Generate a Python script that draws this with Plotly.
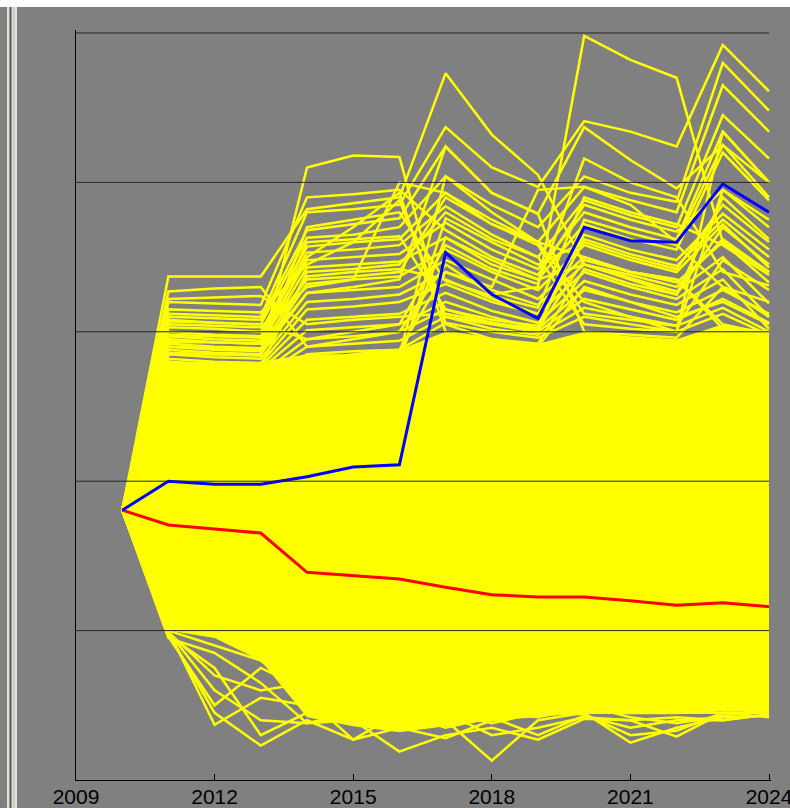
import plotly.graph_objects as go

# ---------------- data ----------------
years = [2010, 2011, 2012, 2013, 2014, 2015, 2016, 2017, 2018, 2019, 2020, 2021, 2022, 2023, 2024]
start_value = 1.806

blue_series = [1.806, 2.00, 1.98, 1.98, 2.03, 2.095, 2.11, 3.53, 3.25, 3.09, 3.70, 3.61, 3.60, 3.99, 3.80]
red_series = [1.806, 1.707, 1.68, 1.653, 1.39, 1.37, 1.345, 1.29, 1.24, 1.225, 1.225, 1.20, 1.17, 1.187, 1.16]

# dense body of the simulated paths (lower / upper envelope of the solid yellow mass)
core_low = [1.806, 1.00, 0.95, 0.80, 0.42, 0.36, 0.32, 0.36, 0.40, 0.42, 0.45, 0.44, 0.44, 0.46, 0.46]
core_high = [1.806, 2.80, 2.80, 2.80, 2.85, 2.85, 2.88, 3.00, 2.96, 2.92, 3.00, 2.97, 2.95, 3.05, 3.00]

# individual paths above the dense body (values 2011..2024)
upper_paths = [
    [3.37, 3.37, 3.37, 3.82, 3.86, 3.90, 4.73, 4.32, 4.05, 3.45, 3.35, 3.25, 3.70, 3.45],
    [3.27, 3.29, 3.30, 2.90, 2.95, 3.00, 3.45, 3.25, 3.30, 4.98, 4.82, 4.70, 3.60, 3.40],
    [2.85, 2.85, 2.85, 4.10, 4.18, 4.17, 3.05, 2.95, 2.90, 3.30, 3.20, 3.10, 3.20, 3.05],
    [3.12, 3.11, 3.10, 3.80, 3.82, 3.85, 4.37, 4.10, 3.97, 4.41, 4.34, 4.24, 4.92, 4.61],
    [3.10, 3.09, 3.08, 3.68, 3.72, 3.76, 4.24, 3.93, 3.79, 4.37, 4.15, 3.96, 4.25, 4.00],
    [3.08, 3.06, 3.05, 3.63, 3.65, 3.70, 4.04, 3.85, 3.70, 4.04, 3.93, 3.87, 4.80, 4.48],
    [3.03, 3.02, 3.00, 3.57, 3.60, 3.62, 3.93, 3.72, 3.60, 3.97, 3.88, 3.80, 4.65, 4.34],
    [3.00, 2.98, 2.97, 3.53, 3.55, 3.58, 3.84, 3.65, 3.50, 3.88, 3.78, 3.70, 4.45, 4.16],
    [2.97, 2.95, 2.94, 3.48, 3.50, 3.52, 3.73, 3.55, 3.42, 3.80, 3.70, 3.62, 4.34, 4.00],
    [2.95, 2.93, 2.92, 3.43, 3.45, 3.47, 3.63, 3.48, 3.35, 3.72, 3.62, 3.55, 4.20, 3.88],
    [2.92, 2.90, 2.89, 3.37, 3.40, 3.42, 3.35, 3.22, 3.12, 3.65, 3.55, 3.48, 3.79, 3.55],
    [2.90, 2.88, 2.87, 3.32, 3.35, 3.37, 3.55, 3.40, 3.28, 3.58, 3.48, 3.40, 3.72, 3.43],
    [2.88, 2.86, 2.85, 3.26, 3.28, 3.30, 3.48, 3.35, 3.22, 3.50, 3.40, 3.33, 3.60, 3.33],
    [2.85, 2.83, 2.82, 3.20, 3.22, 3.25, 3.40, 3.28, 3.18, 3.45, 3.36, 3.27, 3.50, 3.19],
    [2.82, 2.80, 2.79, 3.15, 3.17, 3.20, 3.32, 3.20, 3.12, 3.40, 3.30, 3.22, 3.42, 3.10],
    [2.80, 2.78, 2.77, 3.08, 3.10, 3.12, 3.26, 3.14, 3.06, 3.34, 3.25, 3.18, 3.35, 3.02],
    [2.78, 2.76, 2.75, 3.01, 3.03, 3.05, 3.20, 3.10, 3.02, 3.28, 3.20, 3.13, 3.28, 3.12],
    [2.75, 2.73, 2.72, 2.95, 2.97, 3.00, 3.15, 3.06, 3.00, 3.22, 3.15, 3.08, 3.22, 3.06],
    [2.72, 2.70, 2.70, 2.90, 2.92, 2.94, 3.10, 3.02, 2.98, 3.16, 3.10, 3.04, 3.16, 3.00],
    [2.70, 2.68, 2.67, 2.85, 2.87, 2.88, 3.06, 3.00, 2.96, 3.10, 3.05, 3.00, 3.12, 2.98],
    [2.68, 2.68, 2.68, 2.80, 2.82, 2.84, 4.04, 3.80, 3.60, 3.20, 3.10, 3.00, 4.34, 4.00],
    [3.05, 3.04, 3.03, 3.30, 3.35, 4.00, 3.93, 3.75, 3.60, 3.50, 3.40, 3.35, 3.05, 2.98],
    [2.95, 2.93, 2.92, 3.50, 3.70, 3.93, 3.00, 2.95, 2.92, 3.42, 3.32, 3.25, 3.90, 3.62],
    [2.90, 2.89, 2.88, 3.26, 3.30, 3.35, 4.24, 3.93, 3.79, 3.00, 2.98, 2.96, 3.30, 3.10],
    [2.73, 2.72, 2.71, 2.80, 2.85, 2.88, 3.40, 3.30, 3.95, 3.97, 3.85, 3.60, 4.25, 3.90],
    [2.71, 2.70, 2.70, 2.78, 2.79, 2.80, 3.76, 3.60, 3.45, 3.60, 3.50, 3.42, 3.85, 3.60],
    [2.72, 2.72, 2.72, 2.79, 2.80, 2.82, 3.63, 3.45, 3.35, 3.45, 3.38, 3.30, 3.62, 3.40],
    [3.20, 3.19, 3.18, 3.90, 3.92, 3.95, 3.68, 3.50, 3.38, 3.85, 3.75, 3.67, 3.95, 3.70],
    [3.15, 3.14, 3.13, 3.45, 3.60, 3.88, 3.10, 3.05, 3.00, 3.75, 3.66, 3.58, 3.30, 3.20],
    [3.07, 3.06, 3.05, 2.95, 3.00, 3.05, 3.58, 3.42, 3.32, 4.16, 4.00, 3.90, 3.40, 3.31],
    [2.93, 2.93, 2.92, 3.60, 3.62, 3.64, 3.15, 3.08, 3.04, 3.62, 3.52, 3.44, 3.75, 3.50],
    [2.86, 2.85, 2.84, 3.70, 3.75, 3.80, 3.34, 3.24, 3.16, 3.90, 3.80, 3.72, 3.58, 3.38],
    [2.78, 2.77, 2.77, 3.40, 3.42, 3.45, 3.80, 3.62, 3.50, 3.05, 3.02, 3.00, 3.95, 3.75],
    [3.22, 3.23, 3.24, 3.05, 3.08, 3.10, 3.12, 3.06, 3.02, 3.48, 3.40, 3.35, 3.02, 3.00],
    [2.98, 2.97, 2.96, 3.35, 3.37, 3.40, 3.90, 3.72, 3.58, 3.12, 3.08, 3.04, 3.48, 3.28],
]

# individual paths below the dense body (values 2011..2024)
lower_paths = [
    [1.00, 0.37, 0.55, 0.50, 0.45, 0.40, 0.38, 0.45, 0.50, 0.48, 0.50, 0.50, 0.48, 0.46],
    [0.98, 0.45, 0.23, 0.40, 0.27, 0.35, 0.28, 0.40, 0.45, 0.45, 0.45, 0.45, 0.45, 0.45],
    [0.99, 0.60, 0.40, 0.38, 0.40, 0.19, 0.30, 0.35, 0.27, 0.41, 0.40, 0.42, 0.40, 0.44],
    [0.97, 0.75, 0.30, 0.45, 0.50, 0.45, 0.40, 0.13, 0.40, 0.45, 0.25, 0.35, 0.42, 0.43],
    [0.95, 0.85, 0.65, 0.38, 0.45, 0.42, 0.45, 0.30, 0.35, 0.42, 0.40, 0.29, 0.45, 0.42],
    [1.00, 0.90, 0.80, 0.55, 0.27, 0.45, 0.35, 0.42, 0.30, 0.43, 0.35, 0.40, 0.40, 0.44],
    [0.96, 0.50, 0.75, 0.60, 0.55, 0.50, 0.45, 0.38, 0.45, 0.44, 0.30, 0.33, 0.45, 0.45],
    [0.99, 0.70, 0.60, 0.65, 0.60, 0.55, 0.50, 0.45, 0.42, 0.50, 0.42, 0.38, 0.43, 0.47],
]

x_tick_values = [2009, 2012, 2015, 2018, 2021, 2024]
x_tick_labels = ["2009", "2012", "2015", "2018", "2021", "2024"]
grid_levels = [1, 2, 3, 4, 5]

# ---------------- styling ----------------
GRAY = "#808080"
YELLOW = "#FFFF00"
W, H = 790, 808
ML, MR, MT, MB = 76, 19, 30, 28
PW, PH = W - ML - MR, H - MT - MB
X0 = 2009
X1 = X0 + 15 * PW / 693.0   # 2024 lands at pixel 769, leaving room for its tick


def px_x(p):
    return (p - ML) / PW


def px_y(p):
    return (H - MB - p) / PH


fig = go.Figure()
fig.add_trace(go.Scatter(x=years, y=core_low, mode="lines", line=dict(width=0, color=YELLOW),
                         hoverinfo="skip", showlegend=False))
fig.add_trace(go.Scatter(x=years, y=core_high, mode="lines", line=dict(width=0, color=YELLOW),
                         fill="tonexty", fillcolor=YELLOW, hoverinfo="skip", showlegend=False))

yx, yy = [], []
for path in upper_paths + lower_paths:
    yx += years + [None]
    yy += [start_value] + path + [None]
fig.add_trace(go.Scatter(x=yx, y=yy, mode="lines", line=dict(width=2.5, color=YELLOW),
                         connectgaps=False, hoverinfo="skip", showlegend=False))
fig.add_trace(go.Scatter(x=years, y=red_series, mode="lines", line=dict(width=3, color="#FF0000"),
                         showlegend=False))
fig.add_trace(go.Scatter(x=years, y=blue_series, mode="lines", line=dict(width=3, color="#0000FF"),
                         showlegend=False))

shapes = []
# horizontal grid lines drawn above the paths, spanning 2009..2024
for g in grid_levels:
    shapes.append(dict(type="line", xref="paper", yref="y", x0=0, x1=px_x(769), y0=g, y1=g,
                       line=dict(color="#262626", width=1), layer="above"))
# window chrome: white strip on top, light frame strip on the left
shapes.append(dict(type="rect", xref="paper", yref="paper", x0=px_x(0), x1=px_x(W), y0=px_y(7), y1=px_y(0),
                   fillcolor="#ffffff", line=dict(width=0), layer="above"))
shapes.append(dict(type="rect", xref="paper", yref="paper", x0=px_x(7), x1=px_x(17), y0=px_y(H), y1=px_y(7),
                   fillcolor="#e4e1da", line=dict(width=0), layer="above"))
shapes.append(dict(type="rect", xref="paper", yref="paper", x0=px_x(9.5), x1=px_x(11.5), y0=px_y(H), y1=px_y(7),
                   fillcolor="#555555", line=dict(width=0), layer="above"))
shapes.append(dict(type="rect", xref="paper", yref="paper", x0=px_x(13.5), x1=px_x(14.5), y0=px_y(H), y1=px_y(7),
                   fillcolor="#b8b5ae", line=dict(width=0), layer="above"))

fig.update_layout(
    width=W, height=H,
    autosize=False,
    margin=dict(l=ML, r=MR, t=MT, b=MB, pad=0, autoexpand=False),
    paper_bgcolor=GRAY, plot_bgcolor=GRAY,
    showlegend=False,
    shapes=shapes,
    font=dict(family="Liberation Sans, Arial, sans-serif", size=21, color="#000000"),
    xaxis=dict(range=[X0, X1], tickmode="array", tickvals=x_tick_values, ticktext=x_tick_labels,
               showgrid=False, zeroline=False, showline=True, linecolor="#000000", linewidth=1,
               ticks="inside", ticklen=6, tickcolor="#000000", tickwidth=1,
               ticklabeloverflow="allow", ticklabelstandoff=-2, automargin=False,
               tickfont=dict(size=21, color="#000000"), layer="above traces"),
    yaxis=dict(range=[0, 5.02], showgrid=False, zeroline=False, showline=True, linecolor="#000000",
               linewidth=1, showticklabels=False, ticks="", automargin=False, layer="above traces"),
    annotations=[dict(text="2024", xref="paper", yref="paper", x=px_x(3), y=px_y(787),
                      xanchor="right", yanchor="top", showarrow=False,
                      font=dict(size=21, color="#000000"))],
)

fig.write_html(
    "out.html",
    config={"responsive": False, "displayModeBar": False},
    post_script="document.body.style.margin='0';document.body.style.overflow='hidden';",
)
